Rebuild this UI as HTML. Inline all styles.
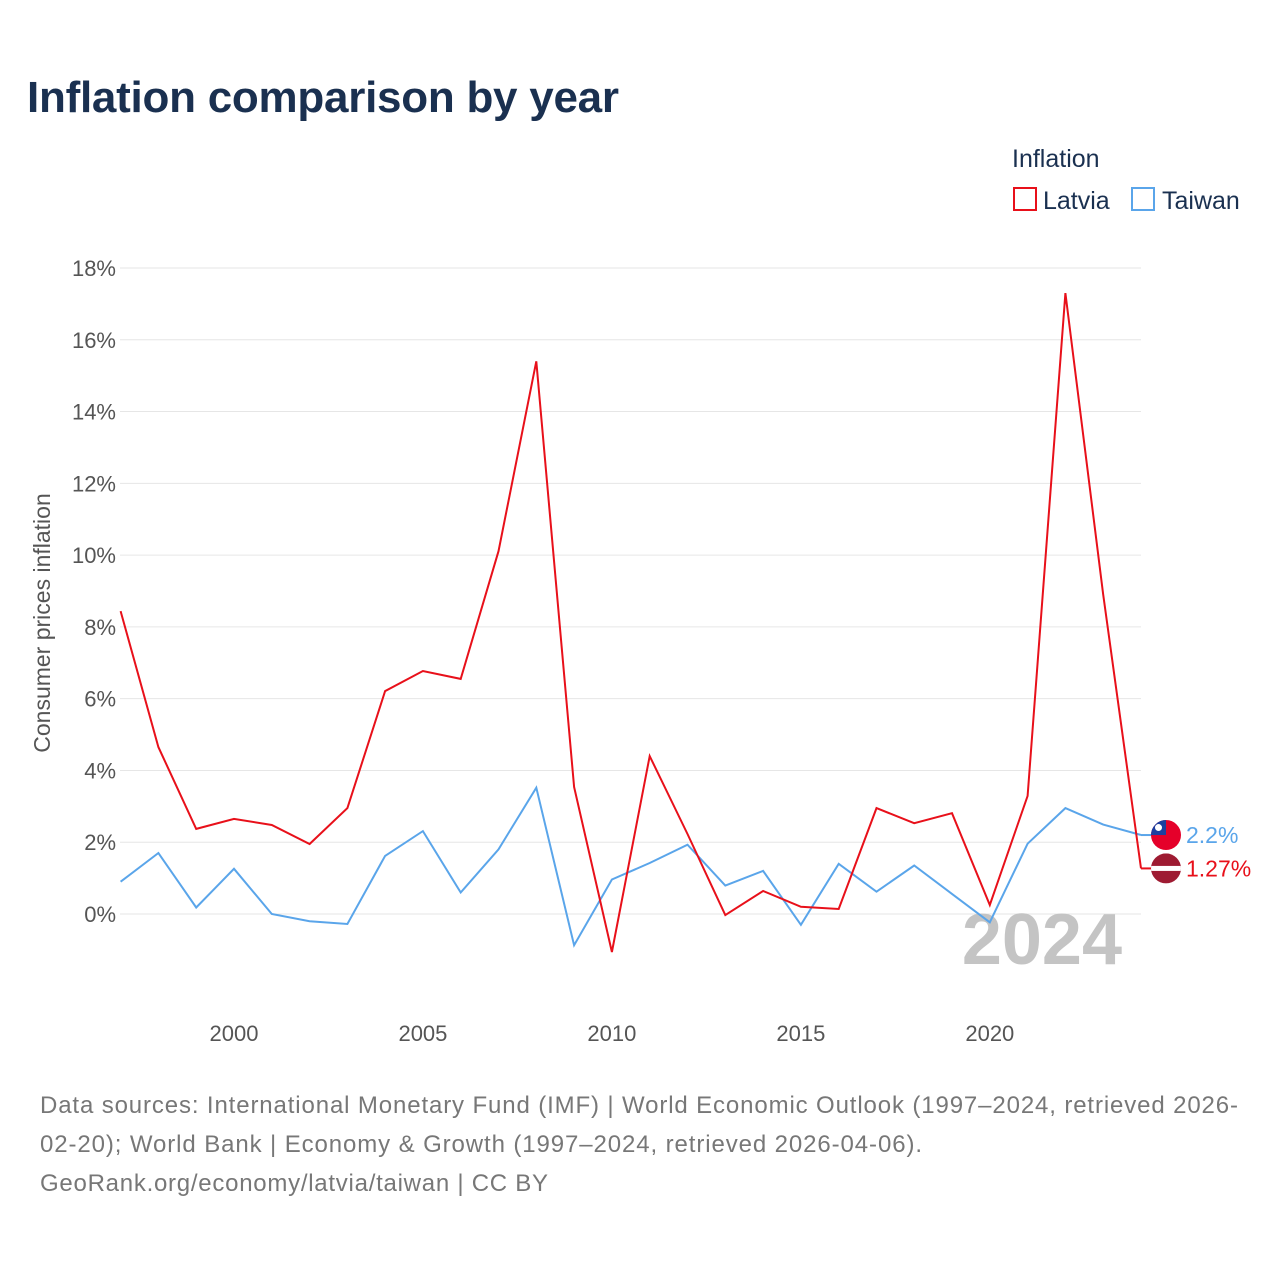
<!DOCTYPE html>
<html><head><meta charset="utf-8"><style>
body{margin:0;background:#fff;font-family:"Liberation Sans",sans-serif;}
#wrap{position:relative;width:1280px;height:1280px;}
</style></head><body>
<div id="wrap">
<svg id="chart" width="1280" height="1280">
<text x="27" y="112" font-size="44" font-weight="bold" fill="#1a3050" textLength="592">Inflation comparison by year</text>
<text x="1012" y="167" font-size="25" fill="#1a3050">Inflation</text>
<g><rect x="1014" y="188" width="22" height="22" fill="none" stroke="#e8101a" stroke-width="2"/><text x="1043" y="209" font-size="25" fill="#1a3050">Latvia</text></g>
<g><rect x="1132" y="188" width="22" height="22" fill="none" stroke="#5aa5ea" stroke-width="2"/><text x="1162" y="209" font-size="25" fill="#1a3050">Taiwan</text></g>
<text transform="translate(50,623) rotate(-90)" text-anchor="middle" font-size="23" fill="#555">Consumer prices inflation</text>
<g id="grid"></g>
<text x="1122" y="964" text-anchor="end" font-size="72" font-weight="bold" fill="#c4c4c4">2024</text>
<g id="series"></g>
<text x="40" y="1113" font-size="24" fill="#777" textLength="1198">Data sources: International Monetary Fund (IMF) | World Economic Outlook (1997–2024, retrieved 2026-</text>
<text x="40" y="1152" font-size="24" fill="#777" textLength="882">02-20); World Bank | Economy &amp; Growth (1997–2024, retrieved 2026-04-06).</text>
<text x="40" y="1191" font-size="24" fill="#777" textLength="508">GeoRank.org/economy/latvia/taiwan | CC BY</text>
</svg></div>
<script>
const years=[1997,1998,1999,2000,2001,2002,2003,2004,2005,2006,2007,2008,2009,2010,2011,2012,2013,2014,2015,2016,2017,2018,2019,2020,2021,2022,2023,2024];
const latvia=[8.44,4.65,2.37,2.65,2.48,1.95,2.95,6.21,6.77,6.55,10.11,15.4,3.54,-1.06,4.4,2.23,-0.03,0.64,0.2,0.14,2.95,2.53,2.81,0.25,3.29,17.3,8.9,1.27];
const taiwan=[0.9,1.7,0.18,1.26,0,-0.2,-0.28,1.62,2.31,0.6,1.8,3.52,-0.87,0.96,1.42,1.93,0.79,1.2,-0.3,1.4,0.62,1.35,0.56,-0.23,1.96,2.95,2.49,2.2];
const yTicks=[0,2,4,6,8,10,12,14,16,18];
const xTicks=[2000,2005,2010,2015,2020];
const NS="http://www.w3.org/2000/svg";
const x=v=>120.6+(v-1997)*(1141-120.6)/27;
const y=v=>914-v*(914-268)/18;
const grid=document.getElementById('grid'),ser=document.getElementById('series');
function mk(tag,attrs,parent,txt){const e=document.createElementNS(NS,tag);for(const k in attrs)e.setAttribute(k,attrs[k]);if(txt!==undefined)e.textContent=txt;parent.appendChild(e);return e;}
yTicks.forEach(t=>{
 const l=mk('line',{x1:120,x2:1141,y1:y(t),y2:y(t),stroke:'#e6e6e6','stroke-width':1},grid);
 
 
 const tx=mk('text',{x:116,y:y(t)+8,'text-anchor':'end','font-size':22,fill:'#555'},grid,t+'%');
 
 
});
xTicks.forEach(t=>{
 const tx=mk('text',{x:x(t),y:1041,'text-anchor':'middle','font-size':22,fill:'#555'},grid,String(t));
 
 
});
function line(data,color,name){
 const pts=data.map((v,i)=>x(years[i]).toFixed(1)+','+y(v).toFixed(1)).join(' ');
 const p=mk('polyline',{points:pts,fill:'none',stroke:color,'stroke-width':2,'stroke-linejoin':'miter'},ser);
 
 
}
line(taiwan,'#5aa5ea','taiwan-line');
line(latvia,'#e8101a','latvia-line');
const lastT=taiwan[taiwan.length-1],lastL=latvia[latvia.length-1];
const tl=mk('line',{x1:1141,y1:y(lastT),x2:1152,y2:y(lastT),stroke:'#5aa5ea','stroke-width':2},ser);


const ll=mk('line',{x1:1141,y1:y(lastL),x2:1152,y2:y(lastL),stroke:'#e8101a','stroke-width':2},ser);


const tf=mk('g',{},ser);


mk('clipPath',{id:'cT'},tf);
mk('circle',{cx:1166,cy:y(lastT),r:15},document.getElementById('cT'));
const tg=mk('g',{'clip-path':'url(#cT)'},tf);
mk('rect',{x:1151,y:y(lastT)-15,width:30,height:30,fill:'#e5002a'},tg);
mk('rect',{x:1151,y:y(lastT)-15,width:15,height:15,fill:'#1c3fa0'},tg);
mk('circle',{cx:1158.5,cy:y(lastT)-7.5,r:3.5,fill:'#fff'},tg);
const lf=mk('g',{},ser);


mk('clipPath',{id:'cL'},lf);
mk('circle',{cx:1166,cy:y(lastL),r:15},document.getElementById('cL'));
const lg=mk('g',{'clip-path':'url(#cL)'},lf);
mk('rect',{x:1151,y:y(lastL)-15,width:30,height:30,fill:'#9e1b32'},lg);
mk('rect',{x:1151,y:y(lastL)-2.5,width:30,height:5,fill:'#fff'},lg);
const vt=mk('text',{x:1186,y:y(lastT)+8,'font-size':23,fill:'#5aa5ea'},ser,lastT+'%');


const vl=mk('text',{x:1186,y:y(lastL)+8,'font-size':23,fill:'#e8101a'},ser,lastL+'%');


</script>
</body></html>
